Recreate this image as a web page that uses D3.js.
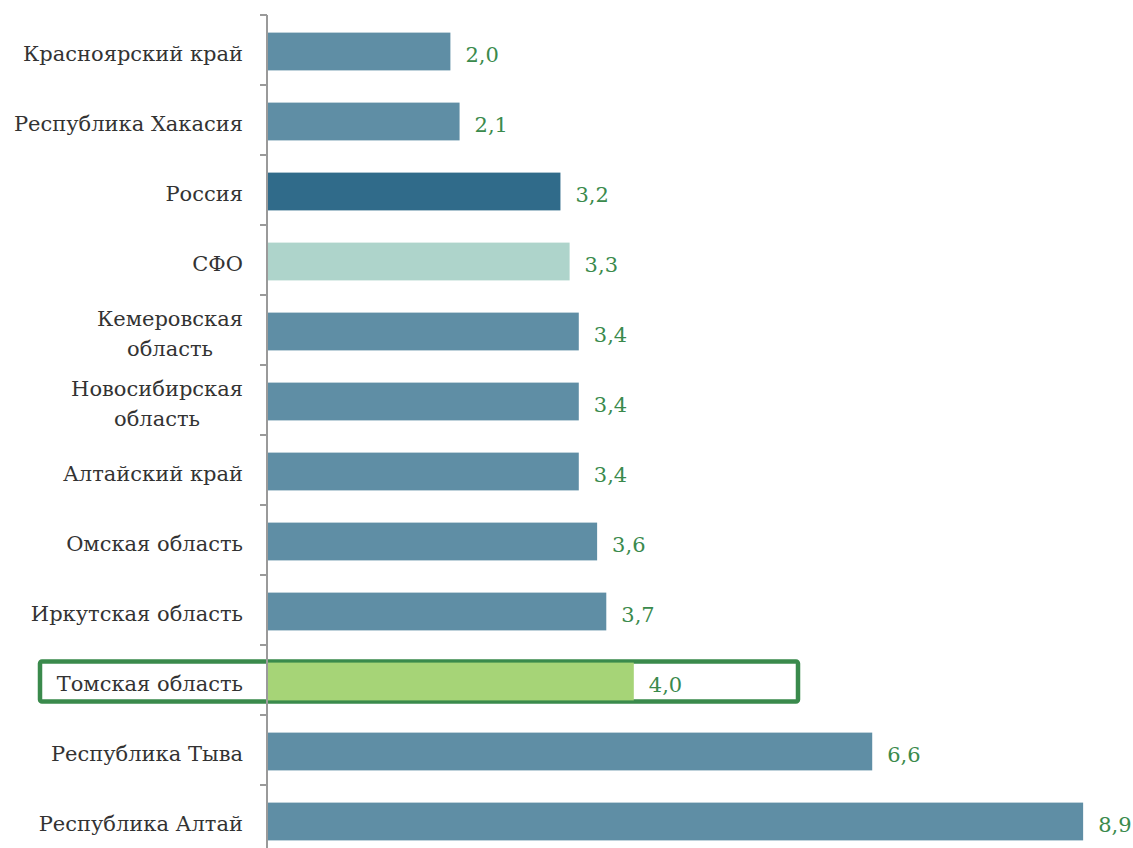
<!DOCTYPE html>
<html>
<head>
<meta charset="utf-8">
<script src="https://cdn.jsdelivr.net/npm/d3@7"></script>
<style>
  body { margin: 0; background: #fff; }
  text { font-family: "DejaVu Serif", serif; }
</style>
</head>
<body>
<div id="chart"></div>
<script>
// data
var regions = ["Красноярский край", "Республика Хакасия", "Россия", "СФО",
  "Кемеровская область", "Новосибирская область", "Алтайский край", "Омская область",
  "Иркутская область", "Томская область", "Республика Тыва", "Республика Алтай"];
var values = [2.0, 2.1, 3.2, 3.3, 3.4, 3.4, 3.4, 3.6, 3.7, 4.0, 6.6, 8.9];
// labels that wrap over two lines
var labelLines = {
  "Кемеровская область": ["Кемеровская", "область"],
  "Новосибирская область": ["Новосибирская", "область"]
};
var barColors = {"Россия": "#306b8a", "СФО": "#aed4cb", "Томская область": "#a6d477"};
var highlight = "Томская область";

var w = 1133, h = 848;
var x0 = 267;
var topY = 15, step = 70;

var svg = d3.select("#chart").append("svg")
  .attr("width", w)
  .attr("height", h);

var x = d3.scaleLinear()
  .domain([0, 9])
  .range([x0, x0 + 9 * 91.7]);

// bars sit ~1px below the middle of each band
var y = d3.scaleBand()
  .domain(regions)
  .range([topY + 1.5, topY + 1.5 + step * regions.length])
  .paddingInner(0.46)
  .paddingOuter(0.23);

// highlight box round Tomsk
var hy = y(highlight) + y.bandwidth() / 2;
svg.append("rect")
  .attr("x", 40)
  .attr("y", hy - 20)
  .attr("width", 758)
  .attr("height", 40)
  .attr("rx", 2)
  .style("fill", "none")
  .style("stroke", "#3a8a4c")
  .style("stroke-width", 4.5);

// bars
svg.selectAll(".bar")
  .data(regions)
  .enter()
  .append("rect")
  .attr("class", "bar")
  .attr("x", x(0))
  .attr("y", function(d) { return y(d); })
  .attr("width", function(d, i) { return x(values[i]) - x(0); })
  .attr("height", y.bandwidth())
  .style("fill", function(d) { return barColors[d] || "#5f8ea5"; });

// axis line and ticks between categories
svg.append("line")
  .attr("x1", x0).attr("x2", x0)
  .attr("y1", topY).attr("y2", h)
  .style("stroke", "#9a9a9a")
  .style("stroke-width", 2);

var tickYs = d3.range(regions.length + 1).map(function(i) { return topY + i * step; });
svg.selectAll(".tick")
  .data(tickYs)
  .enter()
  .append("line")
  .attr("x1", x0 - 7).attr("x2", x0)
  .attr("y1", function(d) { return d; })
  .attr("y2", function(d) { return d; })
  .style("stroke", "#9a9a9a")
  .style("stroke-width", 2);

// category labels, lines centred inside a right-aligned block
regions.forEach(function(r) {
  var cy = y(r) + y.bandwidth() / 2;
  var lines = labelLines[r] || [r];
  var g = svg.append("g");
  var texts = lines.map(function(l, k) {
    return g.append("text")
      .attr("y", cy + (k - (lines.length - 1) / 2) * 30)
      .attr("dy", "0.45em")
      .style("font-size", "21px")
      .style("fill", "#333")
      .text(l);
  });
  var maxW = d3.max(texts, function(t) { return t.node().getComputedTextLength(); });
  texts.forEach(function(t) {
    t.attr("x", 243 - maxW / 2).attr("text-anchor", "middle");
  });
});

// value labels
svg.selectAll(".val")
  .data(regions)
  .enter()
  .append("text")
  .attr("class", "val")
  .attr("x", function(d, i) { return x(values[i]) + 15; })
  .attr("y", function(d) { return y(d) + y.bandwidth() / 2; })
  .attr("dy", "0.5em")
  .style("font-size", "21px")
  .style("fill", "#3a8a4c")
  .text(function(d, i) { return d3.format(".1f")(values[i]).replace(".", ","); });
</script>
</body>
</html>
